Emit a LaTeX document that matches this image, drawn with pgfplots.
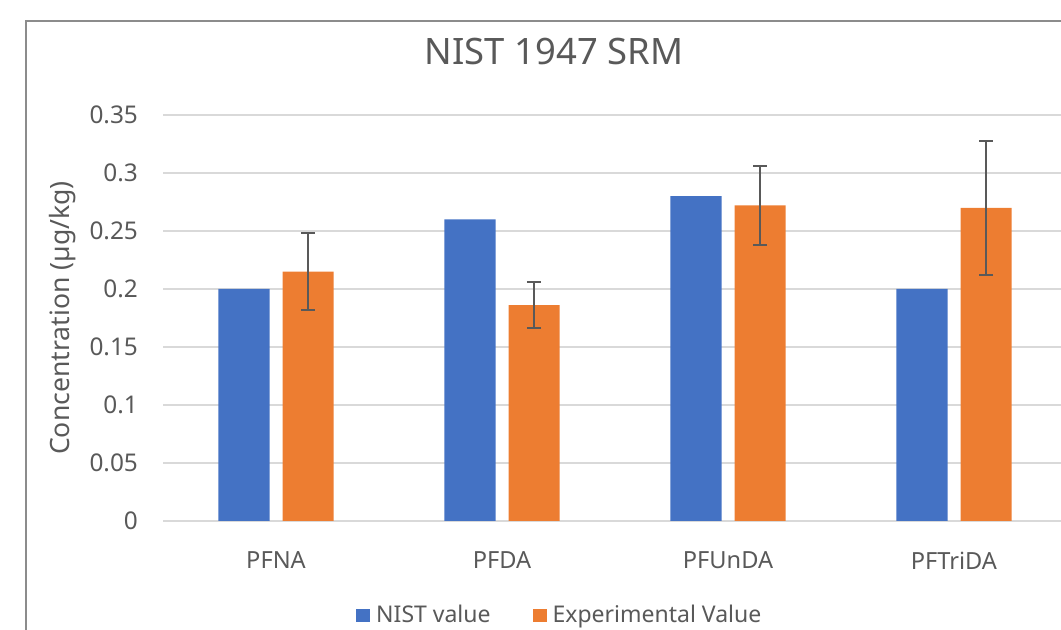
\documentclass[border=0pt]{standalone}
\usepackage{pgfplots}
\pgfplotsset{compat=1.18}
\usepackage{fontspec}
\setmainfont{Noto Sans}
\definecolor{xlblue}{HTML}{4472C4}
\definecolor{xlorange}{HTML}{ED7D31}
\definecolor{xlgrid}{HTML}{D9D9D9}
\definecolor{xltext}{HTML}{595959}
\definecolor{xlframe}{HTML}{8C8C8C}
\begin{document}
\begin{tikzpicture}
\useasboundingbox (0,0) rectangle (530.5pt,315pt);
\draw[xlframe, line width=0.8pt] (13pt,-2pt) -- (13pt,304.5pt) -- (540pt,304.5pt);
\node[text=xltext, font=\fontsize{18.2}{21}\selectfont] at (277pt,289pt) {NIST 1947 SRM};
\begin{axis}[
    scale only axis,
    width=452pt, height=203pt,
    at={(81.5pt,54.5pt)}, anchor=south west,
    ybar=6.5pt, bar width=25.5pt,
    xmin=-0.5, xmax=3.5,
    ymin=0, ymax=0.35,
    xtick={0,1,2,3},
    xticklabels={PFNA,PFDA,PFUnDA,PFTriDA},
    ytick={0,0.05,...,0.35},
    yticklabels={0,0.05,0.1,0.15,0.2,0.25,0.3,0.35},
    axis line style={draw=none},
    major tick length=0pt,
    ymajorgrids, grid style={xlgrid, line width=0.8pt},
    yticklabel style={text=xltext, font=\fontsize{12.2}{14}\selectfont, xshift=-9pt},
    xticklabel style={text=xltext, font=\fontsize{11.8}{14}\selectfont, yshift=-12pt},
    ylabel={Concentration (µg/kg)},
    ylabel style={at={(axis description cs:0,0.5)}, anchor=center, yshift=50pt,
        text=xltext, font=\fontsize{13.3}{15}\selectfont},
    legend columns=2,
    legend style={at={(axis description cs:0.44,-0.2315)}, anchor=center, draw=none,
        font=\fontsize{11.5}{13}\selectfont, text=xltext,
        /tikz/every odd column/.append style={column sep=1pt},
        /tikz/every even column/.append style={column sep=19pt}},
    legend image code/.code={\fill[#1] (0pt,-3.4pt) rectangle (7pt,3.2pt);},
]
\addplot[fill=xlblue, draw=none] coordinates {(0,0.2) (1,0.26) (2,0.28) (3,0.2)};
\addplot[fill=xlorange, draw=none,
    error bars/.cd, y dir=both, y explicit,
    error bar style={color=xltext, line width=1pt},
    error mark options={rotate=90, mark size=3.5pt, line width=1pt, color=xltext}]
    coordinates {
    (0,0.215) +- (0,0.033)
    (1,0.186) +- (0,0.020)
    (2,0.272) +- (0,0.034)
    (3,0.270) +- (0,0.058)
};
\legend{NIST value,Experimental Value}
\end{axis}
\end{tikzpicture}
\end{document}
